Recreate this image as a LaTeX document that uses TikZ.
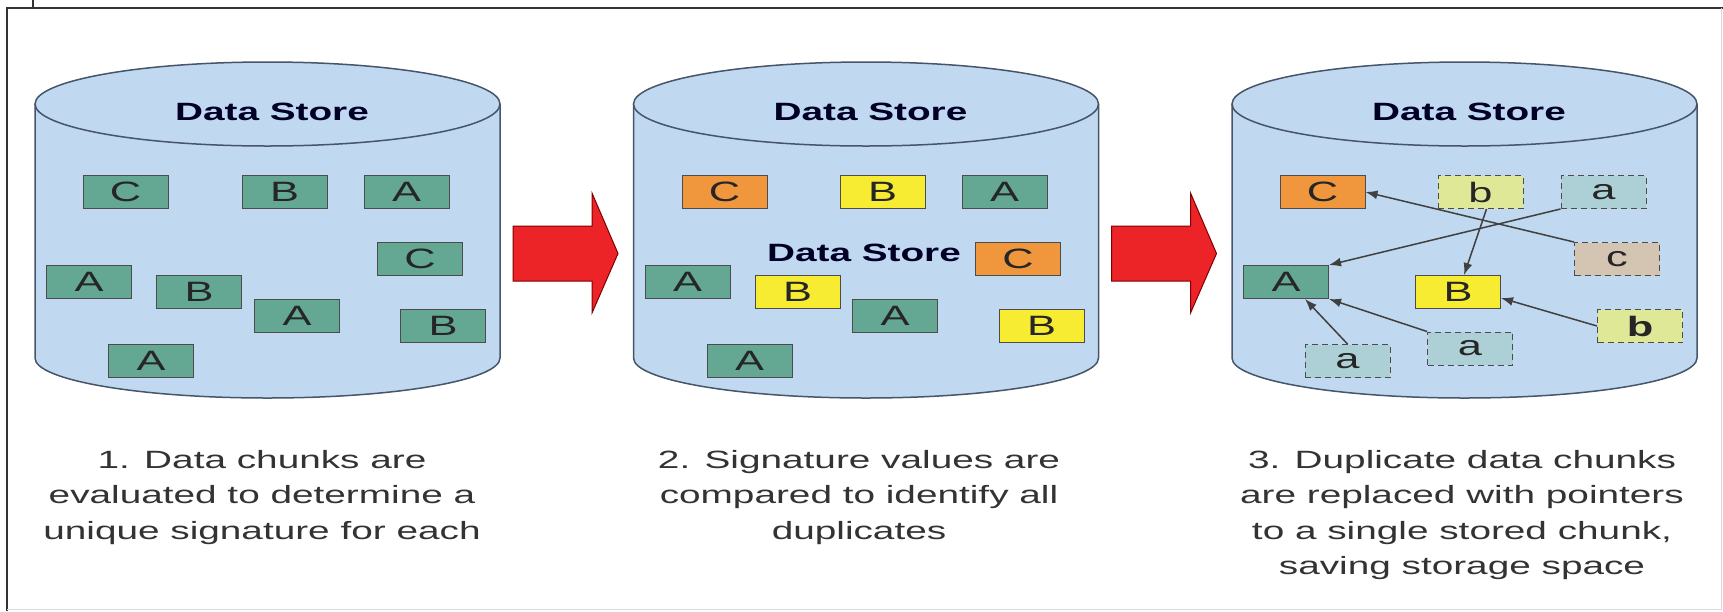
\documentclass[tikz,border=0pt]{standalone}
\usepackage{fontspec}
\setmainfont{Liberation Sans}[FakeStretch=1.55]
\usetikzlibrary{arrows.meta,positioning}

\definecolor{storeblue}{RGB}{192,216,240}
\definecolor{storeline}{RGB}{70,85,105}
\definecolor{chunkteal}{RGB}{100,168,148}
\definecolor{chunkorange}{RGB}{240,150,60}
\definecolor{chunkyellow}{RGB}{248,236,50}
\definecolor{dupgreen}{RGB}{222,232,150}
\definecolor{dupblue}{RGB}{172,208,214}
\definecolor{duptan}{RGB}{212,196,178}
\definecolor{bigred}{RGB}{236,36,40}

\begin{document}
\begin{tikzpicture}[x=1pt,y=-1pt]
\tikzstyle{store}=[draw=storeline, fill=storeblue, line width=1.5pt]
\tikzstyle{title}=[inner sep=0pt, font=\fontsize{25}{25}\selectfont\bfseries, text=black!85!blue]
\tikzstyle{chunk}=[draw=black!70, line width=1pt, minimum width=85pt, minimum height=33pt, inner sep=0pt, font=\fontsize{28}{28}\selectfont, text=black!85]
\tikzstyle{tealchunk}=[chunk, fill=chunkteal]
\tikzstyle{orangechunk}=[chunk, fill=chunkorange]
\tikzstyle{yellowchunk}=[chunk, fill=chunkyellow]
\tikzstyle{dupchunk}=[chunk, dash pattern=on 6pt off 4pt]
\tikzstyle{pointer}=[-{Latex[length=12pt,width=9pt]}, line width=1.5pt, draw=black!75]
\tikzstyle{bigarrow}=[fill=bigred, draw=red!50!black, line width=1pt]
\tikzstyle{caption}=[anchor=north, align=center, inner sep=0pt, font=\fontsize{25}{35.5}\selectfont, text=black!80]

\useasboundingbox (0,0) rectangle (1723,611);

% frame
\draw[line width=2pt, black!80] (7,611) -- (7,8) -- (1723,8);
\draw[line width=1pt, black!15] (1721,8) -- (1721,609) -- (7,609);
\draw[line width=1.5pt, black!80] (33,0) -- (33,8);

% the three stores
\foreach \dx in {0,598.5,1197}{
  \filldraw[store] (35+\dx,104) -- (35+\dx,358) arc[start angle=180, end angle=360, x radius=232.5pt, y radius=40pt] -- (500+\dx,104);
  \filldraw[store] (267.5+\dx,104) ellipse[x radius=232.5pt, y radius=42pt];
  \node[title] at (272+\dx,112) {Data Store};
}

% red arrows
\foreach \dx in {0,598.5}
  \filldraw[bigarrow] (513+\dx,226) -- (592+\dx,226) -- (592+\dx,193) -- (618+\dx,253.5)
    -- (592+\dx,313) -- (592+\dx,281) -- (513+\dx,281) -- cycle;

% step 1
\node[tealchunk] (fC) at (125.5,192) {C};
\node[tealchunk] (fB) at (284.5,192) {B};
\node[tealchunk] (fA) at (406.5,192) {A};
\node[tealchunk] (fC2) at (420,259) {C};
\node[tealchunk] (fA2) at (89,282) {A};
\node[tealchunk] (fB2) at (199,292) {B};
\node[tealchunk] (fA3) at (297,316) {A};
\node[tealchunk] (fB3) at (443,326) {B};
\node[tealchunk] (fA4) at (151,361) {A};

% step 2
\node[orangechunk] (sC) at (724.5,192) {C};
\node[yellowchunk] (sB) at (882.5,192) {B};
\node[tealchunk] (sA) at (1004.5,192) {A};
\node[title] (smid) at (864,253) {Data Store};
\node[orangechunk] (sC2) at (1018,259) {C};
\node[tealchunk] (sA2) at (687.5,282) {A};
\node[yellowchunk] (sB2) at (797.5,292) {B};
\node[tealchunk] (sA3) at (895,316) {A};
\node[yellowchunk] (sB3) at (1041.5,326) {B};
\node[tealchunk] (sA4) at (749.5,361) {A};

% step 3
\node[orangechunk] (tC) at (1322.5,192) {C};
\node[dupchunk, fill=dupgreen] (tb) at (1480.5,192) {b};
\node[dupchunk, fill=dupblue] (ta) at (1603.5,192) {a};
\node[dupchunk, fill=duptan] (tc) at (1617,259) {c};
\node[tealchunk] (tA) at (1286,282) {A};
\node[yellowchunk] (tB) at (1458,292) {B};
\node[dupchunk, fill=dupblue] (ta2) at (1470,348.5) {a};
\node[dupchunk, fill=dupblue] (ta3) at (1347.5,361) {a};
\node[dupchunk, fill=dupgreen, font=\fontsize{28}{28}\selectfont\bfseries] (tb2) at (1640,326) {b};

\draw[pointer] (tc.north west) -- (tC.east);
\draw[pointer] (ta.south west) -- (tA.north east);
\draw[pointer] ([xshift=6pt]tb.south) -- ([xshift=6pt]tB.north);
\draw[pointer] (tb2.west) -- ([yshift=-6pt]tB.east);
\draw[pointer] (ta2.north west) -- (tA.south east);
\draw[pointer] (ta3.north) -- ([xshift=19pt]tA.south);

% captions
\node[caption] (cap1) at (262,450) {1. Data chunks are\\evaluated to determine a\\unique signature for each};
\node[caption] (cap2) at (859,450) {2. Signature values are\\compared to identify all\\duplicates};
\node[caption] (cap3) at (1462,450) {3. Duplicate data chunks\\are replaced with pointers\\to a single stored chunk,\\saving storage space};
\end{tikzpicture}
\end{document}
